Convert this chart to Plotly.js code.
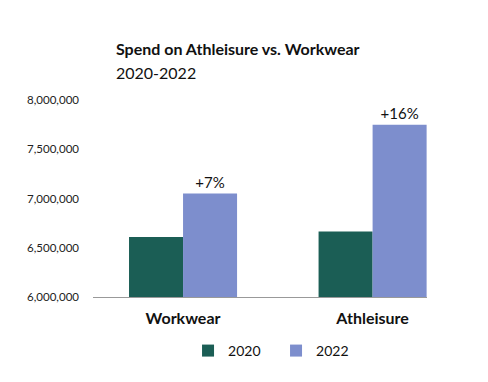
<!DOCTYPE html>
<html>
<head>
<meta charset="utf-8">
<script src="https://cdn.plot.ly/plotly-3.0.1.min.js"></script>
<style>html,body{margin:0;padding:0;background:#fff;}#chart{width:488px;height:382px;}</style>
</head>
<body>
<div id="chart"></div>
<script>
const categories = ["Workwear", "Athleisure"];
const values2020 = [6610000, 6665000];
const values2022 = [7050000, 7750000];
const changeLabels = ["+7%", "+16%"];
const yTickVals = [6000000, 6500000, 7000000, 7500000, 8000000];
const yTickText = ["6,000,000", "6,500,000", "7,000,000", "7,500,000", "8,000,000"];

const FONT = "Lato, 'Open Sans', sans-serif";

const data = [
  {
    type: "bar", name: "2020", x: categories, y: values2020,
    marker: {color: "#1b5e55"}, hoverinfo: "skip"
  },
  {
    type: "bar", name: "2022", x: categories, y: values2022,
    marker: {color: "#7d8ecd"}, text: changeLabels, textposition: "outside",
    textfont: {family: FONT, size: 15, color: "#111"}, cliponaxis: false, hoverinfo: "skip"
  }
];

const layout = {
  width: 488, height: 382,
  margin: {l: 93, r: 61, t: 100, b: 85},
  paper_bgcolor: "#fff", plot_bgcolor: "#fff",
  font: {family: FONT, color: "#111"},
  barmode: "group", bargap: 0.43, bargroupgap: 0,
  showlegend: true,
  legend: {orientation: "h", x: 0.548, xanchor: "center", y: -0.274, yanchor: "middle",
           font: {family: FONT, size: 14, color: "#111"}, itemwidth: 30, entrywidth: 43},
  xaxis: {
    type: "category", range: [-0.475, 1.287],
    showline: true, linecolor: "#999", linewidth: 1,
    showgrid: false, ticks: "",
    tickfont: {family: FONT, size: 16, color: "#111", weight: "bold"},
    ticklabelstandoff: 7
  },
  yaxis: {
    range: [6000000, 8000000], tickvals: yTickVals, ticktext: yTickText,
    showgrid: false, zeroline: false, showline: false, ticks: "",
    tickfont: {family: FONT, size: 11.5, color: "#222"}, ticklabelstandoff: 13
  },
  annotations: [
    {text: "<b>Spend on Athleisure vs. Workwear</b>", xref: "paper", yref: "paper",
     x: (114 - 93) / 334, y: 1 + (100 - 48) / 197, xanchor: "left", yanchor: "middle",
     showarrow: false, font: {family: FONT, size: 16, color: "#111"}},
    {text: "2020-2022", xref: "paper", yref: "paper",
     x: (114 - 93) / 334, y: 1 + (100 - 72) / 197, xanchor: "left", yanchor: "middle",
     showarrow: false, font: {family: FONT, size: 16, color: "#111"}}
  ]
};

Plotly.newPlot("chart", data, layout, {displayModeBar: false, staticPlot: true});
</script>
</body>
</html>
